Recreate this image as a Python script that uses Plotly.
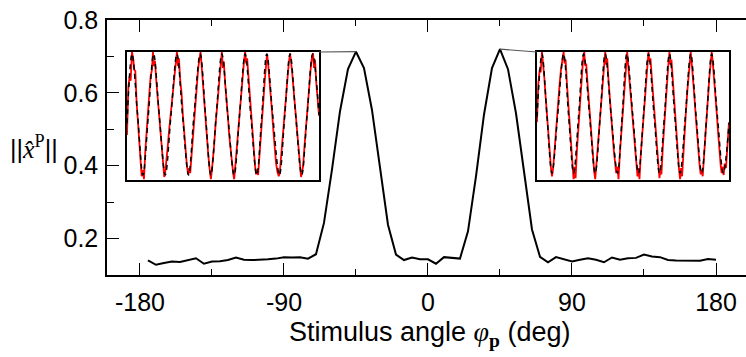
import plotly.graph_objects as go

# ---------------- data ----------------
angles = [-175, -170, -165, -160, -155, -150, -145, -140, -135, -130, -125, -120,
          -115, -110, -105, -100, -95, -90, -85, -80, -75, -70, -65, -60,
          -55, -50, -45, -40, -35, -30, -25, -20, -15, -10, -5, 0,
          5, 10, 15, 20, 25, 30, 35, 40, 45, 50, 55, 60,
          65, 70, 75, 80, 85, 90, 95, 100, 105, 110, 115, 120,
          125, 130, 135, 140, 145, 150, 155, 160, 165, 170, 175, 180]
norm_xp = [0.140, 0.128, 0.133, 0.137, 0.136, 0.141, 0.146, 0.131, 0.137, 0.138, 0.141, 0.148,
           0.142, 0.141, 0.141, 0.143, 0.145, 0.149, 0.148, 0.149, 0.145, 0.157, 0.243, 0.389,
           0.549, 0.665, 0.713, 0.668, 0.553, 0.398, 0.238, 0.156, 0.141, 0.148, 0.143, 0.143,
           0.131, 0.149, 0.146, 0.145, 0.220, 0.371, 0.540, 0.668, 0.720, 0.665, 0.544, 0.389,
           0.225, 0.150, 0.135, 0.149, 0.142, 0.137, 0.142, 0.146, 0.142, 0.135, 0.148, 0.142,
           0.146, 0.147, 0.156, 0.151, 0.149, 0.141, 0.140, 0.139, 0.140, 0.139, 0.144, 0.142]

x_tickvals = [-180, -90, 0, 90, 180]
x_ticktext = ["-180", "-90", "0", "90", "180"]
x_minor = [-135, -45, 45, 135]
y_tickvals = [0.2, 0.4, 0.6, 0.8]
y_ticktext = ["0.2", "0.4", "0.6", "0.8"]
y_minor = [0.3, 0.5, 0.7]

# left inset (at -45 deg): model (dashed black) and response (red)
left_model_t = [0, 15, 32, 48, 64, 80, 97, 115, 132, 150, 167, 185, 201, 220, 236, 252, 268,
                285, 303, 322, 338, 355, 372, 390, 405, 420, 438, 458, 474, 490, 507, 525,
                541, 558, 577]
left_model_v = [-0.12, 0.97, 0, -0.93, 0, 0.97, 0, -0.93, 0, 0.97, 0, -0.93, 0, 0.97, 0, -0.93, 0,
                0.97, 0, -0.93, 0, 0.97, 0, -0.93, 0, 0.97, 0, -0.93, 0, 0.97, 0, -0.93,
                0, 0.97, 0.01]
left_resp_t = [0, 4, 8, 11, 15, 19, 22, 25, 29, 33, 37, 41, 44, 48, 51, 55, 59, 63, 67, 71, 75, 78,
               81, 84, 88, 92, 96, 100, 104, 108, 112, 115, 119, 123, 127, 132, 136, 140, 144, 147,
               150, 153, 156, 160, 164, 168, 172, 176, 180, 184, 187, 190, 194, 198, 202, 206, 210,
               214, 218, 221, 224, 228, 232, 236, 240, 244, 248, 252, 255, 258, 262, 266, 270, 274,
               278, 282, 285, 288, 291, 295, 299, 303, 307, 311, 315, 319, 322, 325, 329, 333, 337,
               341, 345, 349, 352, 355, 358, 361, 365, 369, 373, 377, 381, 385, 388, 391, 394, 398,
               402, 406, 410, 414, 418, 421, 424, 428, 432, 436, 440, 444, 448, 452, 456, 459, 462,
               466, 470, 474, 478, 482, 486, 490, 493, 496, 500, 504, 508, 512, 516, 520, 523, 526,
               529, 533, 537, 541, 545, 549, 553, 556, 559, 562, 565, 569, 573, 577]
left_resp_v = [-0.3, 0.45, 0.62, 0.55, 1.0, 0.88, 0.72, 0.70, 0.2, -0.15, -0.45, -0.72, -0.95, -0.85,
               -1.0, -0.55, -0.3, 0.05, 0.35, 0.62, 0.72, 1.0, 0.78, 0.86, 0.55, 0.3, 0.02, -0.3,
               -0.55, -0.75, -0.96, -0.88, -0.7, -0.45, -0.2, 0.05, 0.35, 0.55, 0.72, 0.82, 1.0,
               0.78, 0.9, 0.55, 0.35, 0.0, -0.3, -0.55, -0.78, -0.92, -0.82, -0.9, -0.6, -0.3,
               -0.05, 0.3, 0.55, 0.75, 0.9, 1.0, 0.8, 0.5, 0.25, 0.0, -0.3, -0.6, -0.82, -1.0,
               -0.86, -0.7, -0.45, -0.15, 0.1, 0.4, 0.6, 0.85, 1.0, 0.75, 0.85, 0.5, 0.3, 0.0,
               -0.3, -0.52, -0.75, -0.9, -1.0, -0.8, -0.6, -0.3, -0.05, 0.25, 0.5, 0.72, 0.88,
               1.0, 0.82, 0.9, 0.6, 0.3, 0.02, -0.3, -0.55, -0.8, -0.92, -0.84, -0.93, -0.6, -0.3,
               -0.05, 0.28, 0.55, 0.8, 0.97, 0.82, 0.6, 0.32, 0.05, -0.25, -0.52, -0.75, -0.88,
               -0.95, -0.9, -0.7, -0.45, -0.15, 0.1, 0.38, 0.62, 0.82, 0.98, 0.85, 0.7, 0.45, 0.2,
               -0.1, -0.38, -0.62, -0.82, -0.96, -0.88, -0.8, -0.5, -0.22, 0.05, 0.35, 0.58, 0.8,
               0.92, 0.98, 0.75, 0.88, 0.5, 0.25, 0.0]

# right inset (at +45 deg)
right_model_t = [0, 15, 30, 45, 62, 80, 95, 110, 125, 140, 158, 175, 190, 205, 223, 242, 256,
                 270, 288, 305, 320, 335, 352, 368, 383, 398, 414, 430, 446, 462, 478, 495,
                 510, 525, 542, 560, 577]
right_model_v = [-0.02, 0.97, 0, -0.9, 0, 0.97, 0, -0.9, 0, 0.97, 0, -0.9, 0, 0.97, 0, -0.9, 0,
                 0.97, 0, -0.9, 0, 0.97, 0, -0.9, 0, 0.97, 0, -0.9, 0, 0.97, 0, -0.9,
                 0, 0.97, 0, -0.9, -0.12]
right_resp_t = [0, 4, 8, 11, 15, 18, 22, 26, 30, 34, 38, 42, 45, 48, 52, 56, 60, 64, 68, 72, 76, 80,
                83, 86, 90, 94, 98, 102, 106, 110, 113, 116, 120, 124, 128, 132, 136, 139, 142, 145,
                148, 152, 156, 160, 164, 168, 172, 175, 178, 182, 186, 190, 194, 198, 202, 205, 208,
                211, 215, 219, 223, 227, 231, 235, 238, 242, 245, 249, 253, 257, 261, 265, 268, 271,
                274, 278, 282, 286, 290, 294, 298, 302, 305, 308, 312, 316, 320, 324, 328, 332, 335,
                338, 341, 345, 349, 353, 357, 361, 365, 368, 371, 374, 378, 382, 386, 390, 394, 398,
                401, 404, 408, 412, 416, 420, 424, 427, 430, 433, 436, 440, 444, 448, 452, 456, 459,
                462, 465, 469, 473, 477, 481, 485, 489, 492, 495, 498, 502, 506, 510, 514, 518, 522,
                525, 528, 532, 536, 540, 544, 548, 552, 555, 558, 561, 564, 568, 572, 577]
right_resp_v = [-0.1, 0.5, 0.72, 0.68, 1.0, 0.85, 0.6, 0.3, 0.0, -0.35, -0.6, -0.82, -0.95, -0.85,
                -0.6, -0.3, -0.05, 0.25, 0.5, 0.72, 0.88, 1.0, 0.82, 0.88, 0.5, 0.2, -0.15, -0.45,
                -0.75, -1.0, -0.8, -0.98, -0.55, -0.2, 0.1, 0.45, 0.7, 0.9, 1.0, 0.78, 0.82, 0.5,
                0.2, -0.1, -0.4, -0.68, -0.88, -1.0, -0.8, -0.6, -0.3, 0.0, 0.3, 0.58, 0.8, 1.0,
                0.8, 0.9, 0.55, 0.25, 0.0, -0.3, -0.55, -0.75, -0.9, -0.8, -1.0, -0.6, -0.3, 0.0,
                0.3, 0.6, 0.85, 1.0, 0.8, 0.55, 0.3, 0.05, -0.25, -0.5, -0.75, -0.95, -0.82, -1.0,
                -0.6, -0.3, 0.0, 0.3, 0.6, 0.85, 1.0, 0.85, 0.9, 0.6, 0.3, 0.0, -0.3, -0.6, -0.82,
                -0.98, -0.85, -0.92, -0.5, -0.15, 0.15, 0.45, 0.75, 1.0, 0.8, 0.88, 0.55, 0.3, 0.0,
                -0.35, -0.62, -0.85, -1.0, -0.82, -0.95, -0.55, -0.2, 0.1, 0.4, 0.7, 0.88, 1.0,
                0.82, 0.6, 0.3, 0.0, -0.3, -0.58, -0.8, -0.92, -0.85, -0.95, -0.6, -0.3, 0.0, 0.3,
                0.6, 0.85, 1.0, 0.85, 0.62, 0.35, 0.05, -0.25, -0.55, -0.78, -0.9, -0.8, -0.93,
                -0.75, -0.82, -0.5, -0.1]

# ---------------- layout constants ----------------
W, H = 746, 357
ML, MR, MT, MB = 107, 0, 20, 82
x_range = [-200.6, 198.75]
y_range = [0.1, 0.8]
inset_y_dom = [0.3745, 0.8745]
left_x_dom = [0.0313, 0.3318]
right_x_dom = [0.6729, 0.9734]
TICKFONT = dict(family="Liberation Sans, Arial, sans-serif", size=25, color="black")

fig = go.Figure()

fig.add_trace(go.Scatter(x=angles, y=norm_xp, mode="lines",
                         line=dict(color="black", width=2), xaxis="x", yaxis="y",
                         showlegend=False, hoverinfo="skip"))

for t, v, ax in [(left_resp_t, left_resp_v, "2"), (right_resp_t, right_resp_v, "3")]:
    fig.add_trace(go.Scatter(x=t, y=v, mode="lines", line=dict(color="#ff0000", width=1.8),
                             xaxis="x" + ax, yaxis="y" + ax, showlegend=False, hoverinfo="skip"))
for t, v, ax in [(left_model_t, left_model_v, "2"), (right_model_t, right_model_v, "3")]:
    fig.add_trace(go.Scatter(x=t, y=v, mode="lines",
                             line=dict(color="black", width=1.5, dash="5px,4px",
                                       shape="spline", smoothing=1.0),
                             xaxis="x" + ax, yaxis="y" + ax, showlegend=False, hoverinfo="skip"))

inset_axis = dict(showline=True, linecolor="black", linewidth=1.5, mirror=True,
                  showticklabels=False, ticks="", showgrid=False, zeroline=False)

fig.update_layout(
    width=W, height=H,
    margin=dict(l=ML, r=MR, t=MT, b=MB),
    paper_bgcolor="white", plot_bgcolor="white",
    xaxis=dict(range=x_range, domain=[0, 1], showgrid=False, zeroline=False,
               showline=True, linecolor="black", linewidth=1.5, mirror="ticks",
               ticks="inside", ticklen=12, tickwidth=1.2, tickcolor="black",
               tickvals=x_tickvals, ticktext=x_ticktext, tickfont=TICKFONT,
               ticklabelstandoff=4,
               minor=dict(tickvals=x_minor, ticks="inside", ticklen=6, tickwidth=1.2,
                          tickcolor="black", showgrid=False)),
    yaxis=dict(range=y_range, domain=[0, 1], showgrid=False, zeroline=False,
               showline=True, linecolor="black", linewidth=1.5, mirror=False,
               ticks="inside", ticklen=12, tickwidth=1.2, tickcolor="black",
               tickvals=y_tickvals, ticktext=y_ticktext, tickfont=TICKFONT,
               ticklabelstandoff=2,
               minor=dict(tickvals=y_minor, ticks="inside", ticklen=7, tickwidth=1.2,
                          tickcolor="black", showgrid=False)),
    xaxis2=dict(inset_axis, domain=left_x_dom, anchor="y2", range=[0, 577]),
    yaxis2=dict(inset_axis, domain=inset_y_dom, anchor="x2", range=[-1.0, 1.0]),
    xaxis3=dict(inset_axis, domain=right_x_dom, anchor="y3", range=[0, 577]),
    yaxis3=dict(inset_axis, domain=inset_y_dom, anchor="x3", range=[-1.0, 1.0]),
)

# connector lines from inset corners to the peaks (computed from data & domains)
def paper_to_x(px):
    return x_range[0] + px * (x_range[1] - x_range[0])

def paper_to_y(py):
    return y_range[0] + py * (y_range[1] - y_range[0])

half = len(angles) // 2
neg_i = max(range(half), key=lambda i: norm_xp[i])
pos_i = max(range(half, len(angles)), key=lambda i: norm_xp[i])
top_y = paper_to_y(inset_y_dom[1])
fig.add_shape(type="line", xref="x", yref="y",
              x0=paper_to_x(left_x_dom[1]), y0=top_y, x1=angles[neg_i], y1=norm_xp[neg_i],
              line=dict(color="#555555", width=1.2))
fig.add_shape(type="line", xref="x", yref="y",
              x0=angles[pos_i], y0=norm_xp[pos_i], x1=paper_to_x(right_x_dom[0]), y1=top_y,
              line=dict(color="#555555", width=1.2))

# axis titles
fig.add_annotation(
    xref="paper", yref="paper", x=-0.114, y=0.50, xanchor="center", yanchor="middle",
    showarrow=False,
    text=("||<span style=\"font-family:'Liberation Serif', serif; font-size:26px\"><i>x\u0302</i>"
          "<sup>P</sup></span>||"),
    font=dict(family="Liberation Sans, Arial, sans-serif", size=25, color="black"))
fig.add_annotation(
    xref="paper", yref="paper", x=0.505, y=-0.23, xanchor="center", yanchor="middle",
    showarrow=False,
    text=("Stimulus angle <span style=\"font-family:'Liberation Serif', serif; font-size:28px\">"
          "<i>\u03c6</i><sub><b>p</b></sub></span> (deg)"),
    font=dict(family="Liberation Sans, Arial, sans-serif", size=27, color="black"))

fig.write_html("out.html")
